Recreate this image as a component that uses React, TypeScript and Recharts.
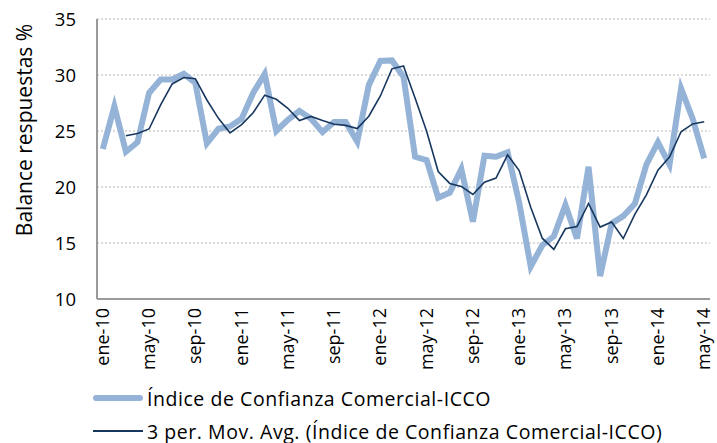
import { CartesianGrid, Line, LineChart, XAxis, YAxis } from "recharts";

const months = [
  "ene-10", "feb-10", "mar-10", "abr-10", "may-10", "jun-10", "jul-10", "ago-10", "sep-10", "oct-10", "nov-10", "dic-10",
  "ene-11", "feb-11", "mar-11", "abr-11", "may-11", "jun-11", "jul-11", "ago-11", "sep-11", "oct-11", "nov-11", "dic-11",
  "ene-12", "feb-12", "mar-12", "abr-12", "may-12", "jun-12", "jul-12", "ago-12", "sep-12", "oct-12", "nov-12", "dic-12",
  "ene-13", "feb-13", "mar-13", "abr-13", "may-13", "jun-13", "jul-13", "ago-13", "sep-13", "oct-13", "nov-13", "dic-13",
  "ene-14", "feb-14", "mar-14", "abr-14", "may-14",
];

const icco = [
  23.4, 27.2, 23.15, 24.0, 28.4, 29.6, 29.6, 30.1, 29.3, 23.9, 25.2, 25.4,
  26.1, 28.4, 30.1, 25.0, 26.0, 26.8, 26.1, 24.9, 25.8, 25.8, 24.05, 29.1,
  31.25, 31.3, 29.85, 22.7, 22.4, 19.05, 19.5, 21.6, 16.9, 22.8, 22.7, 23.1,
  18.6, 12.9, 14.8, 15.6, 18.4, 15.4, 21.8, 12.05, 16.75, 17.4, 18.5, 22.0,
  24.0, 22.0, 28.8, 26.1, 22.55,
];

// 3 per. moving average as drawn (first two months empty)
const movAvg = [
  null, null, 24.58, 24.78, 25.18, 27.33, 29.2, 29.77, 29.67, 27.77, 26.13, 24.83,
  25.57, 26.63, 28.2, 27.83, 27.03, 25.93, 26.3, 25.93, 25.6, 25.5, 25.22, 26.32,
  28.13, 30.55, 30.8, 27.95, 24.98, 21.38, 20.32, 20.05, 19.33, 20.43, 20.8, 22.87,
  21.47, 18.2, 15.43, 14.43, 16.27, 16.47, 18.53, 16.42, 16.87, 15.4, 17.55, 19.3,
  21.5, 22.67, 24.93, 25.63, 25.82,
];

const yTicks = [10, 15, 20, 25, 30, 35];

const seriesName = "Índice de Confianza Comercial-ICCO";
const avgName = "3 per. Mov. Avg. (Índice de Confianza Comercial-ICCO)";

const data = months.map((m, i) => ({ month: m, icco: icco[i], avg: movAvg[i] }));

const FONT = "'Open Sans', sans-serif";

if (typeof document !== "undefined") {
  document.body.style.margin = "0";
  document.body.style.overflow = "hidden";
}

const MonthTick = (props: any) => {
  const { x, y, payload } = props;
  const tx = x - 1;
  return (
    <text
      x={tx}
      y={y}
      transform={`rotate(-90, ${tx}, ${y})`}
      textAnchor="end"
      dominantBaseline="central"
      fontSize={18}
      fontFamily={FONT}
      fill="#000"
    >
      {payload.value}
    </text>
  );
};

const YTitle = () => (
  <text
    x={24}
    y={130}
    transform="rotate(-90, 24, 130)"
    textAnchor="middle"
    dominantBaseline="central"
    fontSize={21}
    fontFamily={FONT}
    fill="#000"
  >
    Balance respuestas %
  </text>
);

const legendRow = { position: "absolute" as const, left: 93, height: 32, display: "flex", alignItems: "center" };

export default function App() {
  return (
    <div style={{ position: "relative", width: 717, height: 443, overflow: "hidden" }}>
      <LineChart
        width={717}
        height={443}
        data={data}
        margin={{ top: 19, right: 7, left: 0, bottom: 0 }}
      >
        <CartesianGrid
          horizontal
          vertical={false}
          stroke="#b8b8b8"
          strokeDasharray="2 2"
        />
        <XAxis
          dataKey="month"
          interval={3}
          height={144}
          padding={{ left: 5.8, right: 5.8 }}
          tick={<MonthTick />}
          tickLine={false}
          tickSize={0}
          tickMargin={9}
          axisLine={{ stroke: "#9a9a9a", strokeWidth: 2 }}
        />
        <YAxis
          domain={[10, 35]}
          ticks={yTicks}
          width={97}
          tickLine={false}
          tickSize={0}
          tickMargin={21}
          axisLine={{ stroke: "#9a9a9a", strokeWidth: 2 }}
          tick={{ fontSize: 18.5, fontFamily: FONT, fill: "#000" }}
          label={{ content: <YTitle /> }}
        />
        <Line
          dataKey="icco"
          name={seriesName}
          stroke="#95b3d7"
          strokeWidth={6}
          dot={false}
          isAnimationActive={false}
        />
        <Line
          dataKey="avg"
          name={avgName}
          stroke="#17375e"
          strokeWidth={1.6}
          dot={false}
          connectNulls={false}
          isAnimationActive={false}
        />
      </LineChart>
      <div style={{ fontFamily: FONT, fontSize: 19.5, letterSpacing: 0.55, color: "#000", whiteSpace: "nowrap" }}>
        <div style={{ ...legendRow, top: 382 }}>
          <span style={{ display: "inline-block", width: 50, height: 6, borderRadius: 3, background: "#95b3d7", marginRight: 4 }} />
          <span>{seriesName}</span>
        </div>
        <div style={{ ...legendRow, top: 415 }}>
          <span style={{ display: "inline-block", width: 50, height: 1.6, background: "#17375e", marginRight: 4 }} />
          <span>{avgName}</span>
        </div>
      </div>
    </div>
  );
}
